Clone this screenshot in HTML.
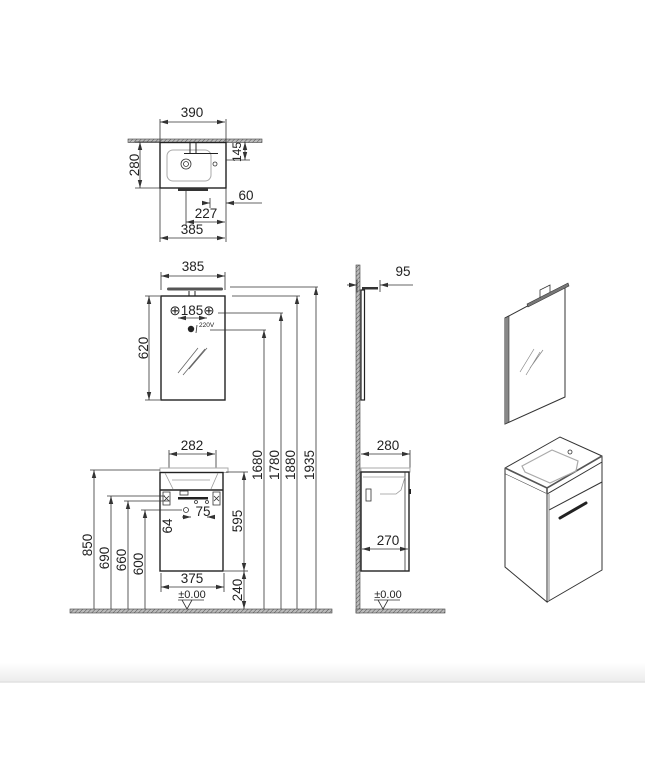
<!DOCTYPE html>
<html><head><meta charset="utf-8"><style>
html,body{margin:0;padding:0;background:#fff;width:645px;height:774px;overflow:hidden}
svg{display:block}
text{font-family:"Liberation Sans",sans-serif;font-size:13.5px;fill:#222}
.l{stroke:#333;stroke-width:.8;fill:none}
.t{stroke:#222;stroke-width:1.4;fill:none}
</style></head><body>
<svg width="645" height="774" viewBox="0 0 645 774">
<defs>
<pattern id="h" width="3" height="3" patternUnits="userSpaceOnUse" patternTransform="rotate(45)"><rect width="3" height="3" fill="#bbb"/><line x1="0" y1="0" x2="0" y2="3" stroke="#555" stroke-width="1"/></pattern>
<marker id="a" markerWidth="8" markerHeight="6" refX="8" refY="3" orient="auto-start-reverse" markerUnits="userSpaceOnUse"><path d="M0,0.8 L8,3 L0,5.2" fill="#333"/></marker>
<linearGradient id="g" x1="0" y1="0" x2="0" y2="1"><stop offset="0" stop-color="#fff"/><stop offset="1" stop-color="#ececec"/></linearGradient>
</defs>

<!-- TOP VIEW -->
<rect x="128" y="139" width="134" height="3.5" fill="url(#h)" stroke="#444" stroke-width=".6"/>
<rect x="160" y="142.5" width="66" height="45.5" class="t"/>
<rect x="178" y="188" width="30" height="3" fill="#333"/>
<rect x="167" y="150" width="44" height="31" rx="6" stroke="#aaa" fill="none" stroke-width="1"/>
<circle cx="186" cy="164" r="5" class="l"/><circle cx="186" cy="164" r="2.5" class="l"/>
<circle cx="215" cy="164" r="2" class="l"/>
<path d="M190 143 V153 M196 143 V153 M184 153.5 H218" class="t" style="stroke-width:1"/>
<path d="M160 119 V142 M226 119 V142" class="l"/>
<line x1="160" y1="122" x2="225" y2="122" class="l" marker-start="url(#a)" marker-end="url(#a)"/>
<text x="192" y="117" text-anchor="middle">390</text>
<path d="M135 142 H160 M135 188 H160" class="l"/>
<line x1="140" y1="142" x2="140" y2="188" class="l" marker-start="url(#a)" marker-end="url(#a)"/>
<text transform="translate(139,165) rotate(-90)" text-anchor="middle">280</text>
<path d="M226 160 H250" class="l"/>
<line x1="245" y1="142" x2="245" y2="160" class="l" marker-start="url(#a)" marker-end="url(#a)"/>
<text transform="translate(241,152) rotate(-90)" text-anchor="middle" style="font-size:12px">145</text>
<path d="M186 190 V226 M226 188 V242 M210 198 V208 M160 188 V242" class="l"/>
<line x1="203" y1="203" x2="210" y2="203" class="l" marker-end="url(#a)"/>
<line x1="262" y1="203" x2="226" y2="203" class="l" marker-end="url(#a)"/>
<text x="246" y="200" text-anchor="middle">60</text>
<line x1="186" y1="222" x2="225" y2="222" class="l" marker-start="url(#a)" marker-end="url(#a)"/>
<text x="206" y="218" text-anchor="middle">227</text>
<line x1="160" y1="238" x2="225" y2="238" class="l" marker-start="url(#a)" marker-end="url(#a)"/>
<text x="192" y="234" text-anchor="middle">385</text>

<!-- MIRROR FRONT -->
<path d="M161 272 V290 M225 272 V290" class="l"/>
<line x1="161" y1="276" x2="225" y2="276" class="l" marker-start="url(#a)" marker-end="url(#a)"/>
<text x="193" y="271" text-anchor="middle">385</text>
<rect x="167" y="287.5" width="56" height="3" rx="1.5" fill="#555"/>
<path d="M189 291 V296 M195 291 V296" class="t" style="stroke-width:1"/>
<rect x="161" y="296" width="64" height="104" class="t"/>
<text x="192" y="315" text-anchor="middle">⊕185⊕</text>
<line x1="178" y1="318" x2="207" y2="318" class="l" marker-start="url(#a)" marker-end="url(#a)"/>
<circle cx="191" cy="329" r="3.2" fill="#222"/>
<text x="199" y="327" style="font-size:6.5px">220V</text>
<path d="M197 325 L196 333" class="l"/>
<path d="M178 373 L198 348 M183 375 L205 349 M189 369 L207 348" stroke="#666" stroke-width=".8"/>
<path d="M145 296 H160 M145 400 H160" class="l"/>
<line x1="149" y1="296" x2="149" y2="400" class="l" marker-start="url(#a)" marker-end="url(#a)"/>
<text transform="translate(148,348) rotate(-90)" text-anchor="middle">620</text>
<!-- tall dims -->
<path d="M230 287 H318 M232 296 H300 M218 313 H283 M210 330 H266" class="l"/>
<line x1="264" y1="609" x2="264" y2="330" class="l" marker-end="url(#a)"/>
<line x1="281" y1="609" x2="281" y2="313" class="l" marker-end="url(#a)"/>
<line x1="297" y1="609" x2="297" y2="296" class="l" marker-end="url(#a)"/>
<line x1="316" y1="609" x2="316" y2="287" class="l" marker-end="url(#a)"/>
<text transform="translate(262,465) rotate(-90)" text-anchor="middle">1680</text>
<text transform="translate(279,465) rotate(-90)" text-anchor="middle">1780</text>
<text transform="translate(295,465) rotate(-90)" text-anchor="middle">1880</text>
<text transform="translate(314,465) rotate(-90)" text-anchor="middle">1935</text>

<!-- FLOOR -->
<rect x="70" y="609" width="262" height="4" fill="url(#h)" stroke="#444" stroke-width=".6"/>

<!-- VANITY FRONT -->
<path d="M169 450 V468 M216 450 V468" class="l"/>
<line x1="169" y1="454" x2="215" y2="454" class="l" marker-start="url(#a)" marker-end="url(#a)"/>
<text x="192" y="450" text-anchor="middle">282</text>
<rect x="160" y="468" width="68" height="4.5" fill="none" stroke="#aaa" stroke-width="1"/>
<rect x="160" y="472.5" width="63" height="98.5" class="t"/>
<line x1="160" y1="490" x2="223" y2="490" stroke="#222" stroke-width="1.6"/>
<path d="M165 473 L173 489 M218 473 L211 489 M172 480 H210" stroke="#999" stroke-width=".8" fill="none"/>
<rect x="180" y="491" width="8" height="4" class="l"/>
<rect x="178" y="497" width="30" height="2.5" fill="#222"/>
<circle cx="196" cy="502" r="1.5" class="l"/><circle cx="207" cy="502" r="1.5" class="l"/>
<path d="M163 492 h7 v13 h-7z M213 492 h7 v13 h-7z" class="l"/>
<path d="M164 496 l5 5 M169 496 l-5 5 M214 496 l5 5 M219 496 l-5 5" class="l"/>
<circle cx="186" cy="510" r="2.5" class="l"/>
<line x1="182" y1="517" x2="191" y2="517" class="l" marker-end="url(#a)"/>
<line x1="212" y1="517" x2="207" y2="517" class="l" marker-end="url(#a)"/>
<text x="203" y="516" text-anchor="middle">75</text>
<text transform="translate(172,526) rotate(-90)" text-anchor="middle">64</text>
<path d="M90 470 H160 M107 496 H165 M124 501 H170 M141 510 H182" class="l"/>
<line x1="94" y1="609" x2="94" y2="470" class="l" marker-end="url(#a)"/>
<line x1="111" y1="609" x2="111" y2="496" class="l" marker-end="url(#a)"/>
<line x1="128" y1="609" x2="128" y2="501" class="l" marker-end="url(#a)"/>
<line x1="145" y1="609" x2="145" y2="510" class="l" marker-end="url(#a)"/>
<text transform="translate(92,545) rotate(-90)" text-anchor="middle">850</text>
<text transform="translate(109,558) rotate(-90)" text-anchor="middle">690</text>
<text transform="translate(126,560) rotate(-90)" text-anchor="middle">660</text>
<text transform="translate(143,564) rotate(-90)" text-anchor="middle">600</text>
<path d="M226 472 H248 M224 571 H248" class="l"/>
<line x1="244" y1="472" x2="244" y2="571" class="l" marker-start="url(#a)" marker-end="url(#a)"/>
<line x1="244" y1="571" x2="244" y2="609" class="l" marker-start="url(#a)" marker-end="url(#a)"/>
<text transform="translate(242,521) rotate(-90)" text-anchor="middle">595</text>
<text transform="translate(242,590) rotate(-90)" text-anchor="middle">240</text>
<path d="M161 573 V592 M224 573 V592" class="l"/>
<line x1="161" y1="587" x2="224" y2="587" class="l" marker-start="url(#a)" marker-end="url(#a)"/>
<text x="192" y="583" text-anchor="middle">375</text>
<text x="192" y="598" text-anchor="middle" style="font-size:11px">±0.00</text>
<path d="M178 600 H204 M182 600 L187 609 L192 600" class="l"/>

<!-- SIDE VIEW -->
<rect x="356" y="265" width="4" height="348" fill="url(#h)" stroke="#444" stroke-width=".6"/>
<rect x="356" y="609" width="89" height="4" fill="url(#h)" stroke="#444" stroke-width=".6"/>
<rect x="361" y="290" width="3.5" height="110" fill="none" stroke="#222" stroke-width="1.2"/>
<rect x="362" y="287" width="16" height="2.5" fill="#333"/>
<path d="M357 280 V292 M380 280 V292" class="l"/>
<line x1="347" y1="285" x2="357" y2="285" class="l" marker-end="url(#a)"/>
<line x1="413" y1="285" x2="380" y2="285" class="l" marker-end="url(#a)"/>
<text x="403" y="276" text-anchor="middle">95</text>
<path d="M410 450 V468" class="l"/>
<line x1="361" y1="454" x2="410" y2="454" class="l" marker-start="url(#a)" marker-end="url(#a)"/>
<text x="388" y="450" text-anchor="middle">280</text>
<rect x="361" y="468" width="49" height="4" fill="none" stroke="#aaa" stroke-width="1"/>
<rect x="361" y="472" width="48" height="99" class="t"/>
<line x1="405" y1="472" x2="405" y2="571" class="l"/>
<path d="M363 477 H405 L401 490 L396 494 H380" stroke="#999" stroke-width=".8" fill="none"/>
<rect x="366" y="489" width="5" height="12" class="l"/>
<rect x="409" y="489" width="2" height="5" fill="#222"/>
<line x1="362" y1="549" x2="408" y2="549" class="l" marker-start="url(#a)" marker-end="url(#a)"/>
<text x="388" y="545" text-anchor="middle">270</text>
<text x="388" y="598" text-anchor="middle" style="font-size:11px">±0.00</text>
<path d="M374 600 H400 M378 600 L383 609 L388 600" class="l"/>

<!-- ISO MIRROR -->
<path d="M505 318 L565 286 L565 397 L505 424 Z" fill="#fff" stroke="#333" stroke-width="1"/>
<path d="M505 318 L509 316 L509 422 L505 424" fill="#888" stroke="#333" stroke-width=".6"/>
<path d="M527 304 L568 283 L569 286 L528 307 Z" fill="#777" stroke="#333" stroke-width=".6"/>
<path d="M540 298 L540 290 L550 285 L550 292" class="l"/>
<path d="M520 372 L534 349 M526 375 L540 352 M530 368 L543 350" stroke="#888" stroke-width=".7"/>

<!-- ISO VANITY -->
<path d="M505 468 L560 437 L602 456 L602 462 L547 494 L505 474 Z" fill="#fff" stroke="#333" stroke-width="1"/>
<path d="M505 468 L547 488 L602 456 M547 488 V494" stroke="#555" stroke-width="1.6" fill="none"/>
<path d="M522 466 L552 450 L578 461 L576 471 L550 483 L525 472 Z" fill="none" stroke="#aaa" stroke-width="1.2"/>
<circle cx="570" cy="452" r="2" class="l"/>
<path d="M505 474 L505 567 L547 602 L547 494" fill="#fff" stroke="#333" stroke-width="1"/>
<path d="M547 602 L602 570 L602 462" fill="none" stroke="#333" stroke-width="1"/>
<path d="M549 510 L602 482" stroke="#333" stroke-width="1"/>
<path d="M549 494 V600" stroke="#888" stroke-width="1"/>
<path d="M560 518 L586 503" stroke="#222" stroke-width="3" stroke-linecap="round"/>

<!-- bottom band -->
<rect x="0" y="663" width="645" height="19" fill="url(#g)"/>
<line x1="0" y1="682" x2="645" y2="682" stroke="#e2e2e2" stroke-width="1.5"/>
</svg>
</body></html>
